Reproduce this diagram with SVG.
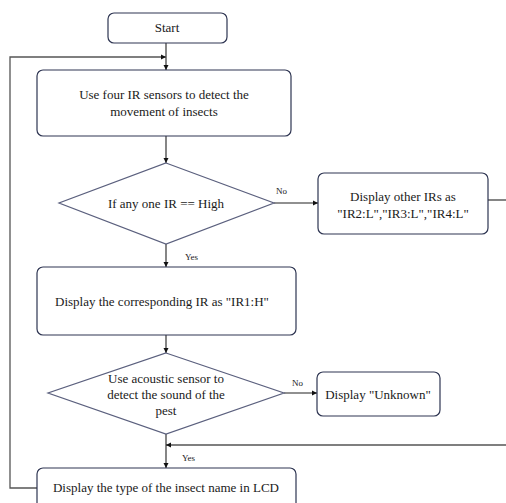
<svg xmlns="http://www.w3.org/2000/svg" width="506" height="503" viewBox="0 0 506 503">
<style>
.box{fill:#fff;stroke:#2e3552;stroke-width:1.2}
.dia{fill:#fff;stroke:#5b607e;stroke-width:1.2}
.ln{fill:none;stroke:#222;stroke-width:1.1}
.lp{fill:none;stroke:#555;stroke-width:1.3}
text{fill:#1a1a1a;font-family:"Liberation Serif","Times New Roman",serif}
.t{font-size:13px;text-anchor:middle}
.lb{font-size:9px}
</style>
<defs>
<marker id="ah" markerWidth="6" markerHeight="6" refX="5" refY="3" orient="auto" markerUnits="userSpaceOnUse">
<path d="M0,0.5 L5,3 L0,5.5 Z" fill="#111"/>
</marker>
</defs>
<rect width="506" height="503" fill="#fff"/>
<g id="connectors">
<line class="ln" x1="166" y1="43" x2="166" y2="70" marker-end="url(#ah)"/>
<polyline class="lp" points="37,488 10,488 10,57 166,57" marker-end="url(#ah)"/>
<line class="ln" x1="166" y1="136" x2="166" y2="163" marker-end="url(#ah)"/>
<line class="ln" x1="274" y1="203" x2="318" y2="203" marker-end="url(#ah)"/>
<line class="ln" x1="488" y1="200" x2="506" y2="200"/>
<line class="ln" x1="166" y1="244" x2="166" y2="267" marker-end="url(#ah)"/>
<line class="ln" x1="166" y1="335" x2="166" y2="353" marker-end="url(#ah)"/>
<line class="ln" x1="284" y1="393" x2="317" y2="393" marker-end="url(#ah)"/>
<line class="lp" x1="506" y1="445" x2="166" y2="445" marker-end="url(#ah)"/>
<line class="ln" x1="166" y1="434" x2="166" y2="468" marker-end="url(#ah)"/>
<text class="lb" x="276" y="194">No</text>
<text class="lb" x="185" y="260">Yes</text>
<text class="lb" x="292" y="386">No</text>
<text class="lb" x="182" y="461">Yes</text>
</g>
<g id="start">
<rect class="box" x="108" y="13" width="119" height="30" rx="6"/>
<text class="t" x="167" y="32">Start</text>
</g>
<g id="detect">
<rect class="box" x="37" y="70" width="254" height="66" rx="6"/>
<text class="t" x="164" y="99">Use four IR sensors to detect the</text>
<text class="t" x="164" y="116">movement of insects</text>
</g>
<g id="ir-check">
<polygon class="dia" points="166,163 274,203 166,244 59,203"/>
<text class="t" x="166" y="208">If any one IR == High</text>
</g>
<g id="display-other">
<rect class="box" x="318" y="173" width="170" height="61" rx="6"/>
<text class="t" x="403" y="201">Display other IRs as</text>
<text class="t" x="403" y="218">"IR2:L","IR3:L","IR4:L"</text>
</g>
<g id="display-ir1">
<rect class="box" x="37" y="267" width="259" height="68" rx="6"/>
<text class="t" x="162" y="306">Display the corresponding IR as "IR1:H"</text>
</g>
<g id="acoustic">
<polygon class="dia" points="166,353 284,393 166,434 48,393"/>
<text class="t" x="166" y="383">Use acoustic sensor to</text>
<text class="t" x="166" y="399">detect the sound of the</text>
<text class="t" x="166" y="415">pest</text>
</g>
<g id="unknown">
<rect class="box" x="317" y="372" width="123" height="44" rx="6"/>
<text class="t" x="378" y="399">Display "Unknown"</text>
</g>
<g id="display-type">
<rect class="box" x="37" y="468" width="259" height="44" rx="6"/>
<text class="t" x="166" y="492">Display the type of the insect name in LCD</text>
</g>
</svg>
